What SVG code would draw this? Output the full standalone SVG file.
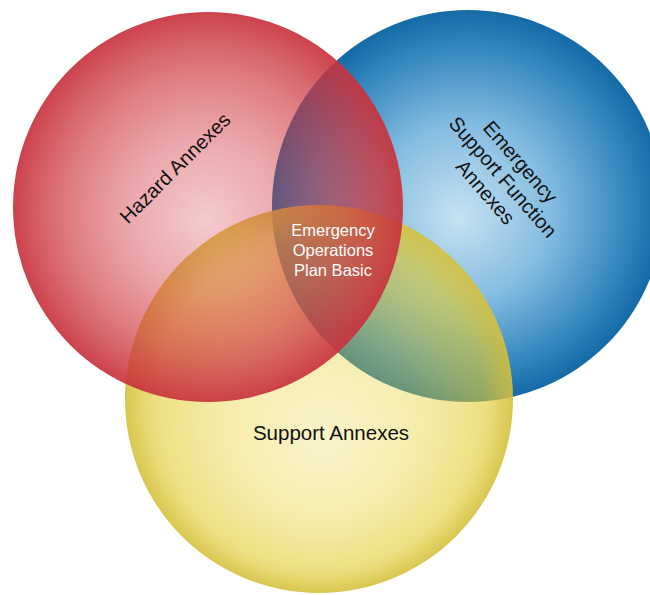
<svg xmlns="http://www.w3.org/2000/svg" width="650" height="595" viewBox="0 0 650 595">
  <defs>
    <radialGradient id="gBlue" gradientUnits="userSpaceOnUse" cx="468" cy="206" r="196" fx="458" fy="218">
      <stop offset="0" stop-color="rgb(198,226,242)"/>
      <stop offset="0.45" stop-color="rgb(132,188,224)"/>
      <stop offset="0.8" stop-color="rgb(56,138,194)"/>
      <stop offset="1" stop-color="rgb(20,106,166)"/>
    </radialGradient>
    <radialGradient id="gYellow" gradientUnits="userSpaceOnUse" cx="319" cy="399" r="194" fx="325" fy="445">
      <stop offset="0" stop-color="rgb(236,212,60)" stop-opacity="0.27"/>
      <stop offset="0.5" stop-color="rgb(232,210,56)" stop-opacity="0.42"/>
      <stop offset="0.85" stop-color="rgb(225,204,52)" stop-opacity="0.62"/>
      <stop offset="1" stop-color="rgb(212,192,60)" stop-opacity="0.9"/>
    </radialGradient>
    <radialGradient id="gRed" gradientUnits="userSpaceOnUse" cx="208" cy="207" r="195" fx="206" fy="222">
      <stop offset="0" stop-color="rgb(210,56,66)" stop-opacity="0.26"/>
      <stop offset="0.4" stop-color="rgb(210,56,66)" stop-opacity="0.44"/>
      <stop offset="0.7" stop-color="rgb(206,54,62)" stop-opacity="0.64"/>
      <stop offset="0.9" stop-color="rgb(202,52,62)" stop-opacity="0.82"/>
      <stop offset="1" stop-color="rgb(200,50,60)" stop-opacity="0.92"/>
    </radialGradient>
  </defs>
  <style>
    .lbl { font-family: "Liberation Sans", Arial, sans-serif; fill: #111; text-anchor: middle; }
    .ctr { font-family: "Liberation Sans", Arial, sans-serif; fill: #fff; text-anchor: middle; font-size: 16.5px; }
  </style>

  <g id="esf-annexes">
    <circle cx="468" cy="206" r="196" fill="url(#gBlue)"/>
  </g>
  <g id="support-annexes">
    <circle cx="319" cy="399" r="194" fill="url(#gYellow)"/>
  </g>
  <g id="hazard-annexes">
    <circle cx="208" cy="207" r="195" fill="url(#gRed)"/>
  </g>

  <g id="labels">
    <g transform="translate(175,168) rotate(-45)">
      <text class="lbl" x="0" y="7" font-size="20">Hazard Annexes</text>
    </g>
    <g transform="translate(503,177) rotate(49)">
      <text class="lbl" x="0" y="-16" font-size="20">Emergency</text>
      <text class="lbl" x="0" y="7" font-size="20">Support Function</text>
      <text class="lbl" x="0" y="30" font-size="20">Annexes</text>
    </g>
    <text class="lbl" x="331" y="440" font-size="20.5">Support Annexes</text>
    <g id="eop-basic">
      <text class="ctr" x="333" y="236">Emergency</text>
      <text class="ctr" x="333" y="256">Operations</text>
      <text class="ctr" x="333" y="276">Plan Basic</text>
    </g>
  </g>
  <g id="connectors"/>
</svg>
